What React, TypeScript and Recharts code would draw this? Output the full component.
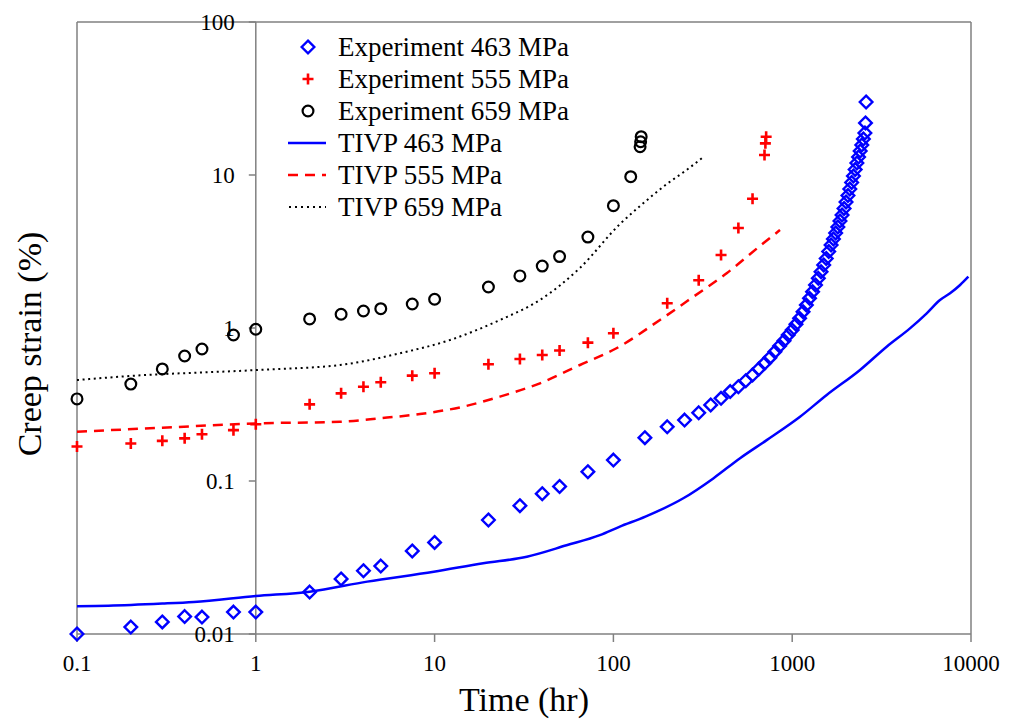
import React from "react";
import {
  ComposedChart,
  Scatter,
  Line,
  XAxis,
  YAxis,
  ReferenceLine,
  ReferenceDot,
  Legend,
} from "recharts";

const FONT = '"Liberation Serif", "Times New Roman", serif';
const AXIS_GRAY = "#808080";
const BLUE = "#0000ff";
const RED = "#ff0000";
const BLACK = "#000000";

// time axis (hr) and strain axis (%) ticks
const xTicks = [0.1, 1, 10, 100, 1000, 10000];
const yTicks = [0.01, 0.1, 1, 10, 100];
const yTickLabels = ["0.01", "0.1", "1", "10", "100"];

// experiment 463 MPa
const exp463Time = [
  0.1, 0.2, 0.3, 0.4, 0.5, 0.75, 1, 2, 3, 4, 5, 7.5, 10, 20, 30, 40, 50, 72,
  100, 150, 200, 250, 300, 350, 400, 450, 500, 550, 600, 650, 700, 750, 800,
  850, 900, 950, 1000, 1050, 1100, 1150, 1200, 1250, 1300, 1350, 1400, 1450,
  1500, 1550, 1600, 1650, 1700, 1750, 1800, 1850, 1900, 1950, 2000, 2050, 2100,
  2150, 2200, 2250, 2300, 2350, 2400, 2450, 2500, 2550, 2570, 2590,
];
const exp463Strain = [
  0.01, 0.0111, 0.012, 0.013, 0.0129, 0.0139, 0.0139, 0.0188, 0.0229, 0.0259,
  0.0278, 0.0349, 0.0397, 0.0556, 0.069, 0.0826, 0.0921, 0.115, 0.137, 0.192,
  0.226, 0.25, 0.279, 0.314, 0.347, 0.384, 0.413, 0.452, 0.493, 0.54, 0.588,
  0.64, 0.7, 0.763, 0.826, 0.9, 0.97, 1.057, 1.157, 1.278, 1.413, 1.564, 1.727,
  1.91, 2.113, 2.333, 2.581, 2.846, 3.162, 3.487, 3.816, 4.177, 4.573, 5.004,
  5.478, 6.04, 6.662, 7.345, 8.1, 8.933, 9.851, 10.86, 11.98, 13.11, 14.35,
  15.71, 17.19, 18.82, 21.88, 30.0,
];

// experiment 555 MPa
const exp555Time = [
  0.1, 0.2, 0.3, 0.4, 0.5, 0.75, 1, 2, 3, 4, 5, 7.5, 10, 20, 30, 40, 50, 72,
  100, 200, 300, 400, 500, 600, 700, 708, 715,
];
const exp555Strain = [
  0.168, 0.176, 0.183, 0.19, 0.202, 0.215, 0.235, 0.317, 0.374, 0.413, 0.442,
  0.488, 0.506, 0.579, 0.627, 0.666, 0.712, 0.802, 0.923, 1.45, 2.05, 3.0, 4.5,
  7.0, 13.5, 16.1, 17.8,
];

// experiment 659 MPa
const exp659Time = [
  0.1, 0.2, 0.3, 0.4, 0.5, 0.75, 1, 2, 3, 4, 5, 7.5, 10, 20, 30, 40, 50, 72,
  100, 125, 141, 142, 143,
];
const exp659Strain = [
  0.344, 0.43, 0.54, 0.656, 0.729, 0.9, 0.981, 1.146, 1.23, 1.292, 1.337, 1.435,
  1.541, 1.854, 2.19, 2.54, 2.93, 3.93, 6.3, 9.75, 15.3, 16.5, 17.8,
];

// TIVP model curves
const tivp463Time = [
  0.1, 0.15, 0.3, 0.45, 1, 2, 4.2, 9.9, 18.7, 32.8, 54.7, 84, 108, 151, 246,
  362, 511, 720, 1106, 1560, 2395, 3376, 4556, 5654, 6707, 7637, 8690, 9670,
];
const tivp463Strain = [
  0.0152, 0.0153, 0.0158, 0.0162, 0.0177, 0.0189, 0.022, 0.0255, 0.029, 0.032,
  0.038, 0.0443, 0.0502, 0.0585, 0.0771, 0.104, 0.141, 0.185, 0.263, 0.365,
  0.532, 0.755, 0.995, 1.248, 1.524, 1.686, 1.91, 2.164,
];

const tivp555Time = [
  0.1, 0.3, 1, 2.96, 4.95, 8.28, 13.9, 23.2, 38.8, 65, 104, 182, 280, 430, 689,
  855,
];
const tivp555Strain = [
  0.21, 0.223, 0.238, 0.244, 0.257, 0.274, 0.303, 0.356, 0.435, 0.573, 0.737,
  1.128, 1.6, 2.28, 3.58, 4.37,
];

const tivp659Time = [
  0.1, 0.2, 1, 2.96, 6.4, 12.2, 23.2, 38.8, 65, 109, 141, 199, 257, 318,
];
const tivp659Strain = [
  0.457, 0.486, 0.531, 0.573, 0.684, 0.835, 1.128, 1.524, 2.47, 4.79, 6.27,
  8.73, 10.8, 13.1,
];

const legendNames = [
  "Experiment 463 MPa",
  "Experiment 555 MPa",
  "Experiment 659 MPa",
  "TIVP 463 MPa",
  "TIVP 555 MPa",
  "TIVP 659 MPa",
];

const zip = (t: number[], s: number[]) =>
  t.map((time, i) => ({ time, strain: s[i] }));

const DiamondMark = ({ cx, cy }: any) => (
  <path
    d={`M${cx},${cy - 6.3}L${cx + 6.3},${cy}L${cx},${cy + 6.3}L${cx - 6.3},${cy}Z`}
    fill="none"
    stroke={BLUE}
    strokeWidth={2.4}
  />
);

const PlusMark = ({ cx, cy }: any) => (
  <path
    d={`M${cx - 5.5},${cy}H${cx + 5.5}M${cx},${cy - 5.5}V${cy + 5.5}`}
    stroke={RED}
    strokeWidth={2.6}
  />
);

const CircleMark = ({ cx, cy }: any) => (
  <circle cx={cx} cy={cy} r={5.4} fill="none" stroke={BLACK} strokeWidth={2.2} />
);

const yTickShape = (label: string) => ({ cx, cy }: any) => (
  <g>
    <line x1={cx - 7} y1={cy} x2={cx} y2={cy} stroke={AXIS_GRAY} strokeWidth={1.5} />
    <text
      x={cx - 21}
      y={cy}
      textAnchor="end"
      dominantBaseline="central"
      fontSize={23}
      fontFamily={FONT}
      fill="#000"
    >
      {label}
    </text>
  </g>
);

const legendSymbol = (i: number) => {
  switch (i) {
    case 0:
      return <DiamondMark cx={20} cy={16} />;
    case 1:
      return <PlusMark cx={20} cy={16} />;
    case 2:
      return <CircleMark cx={20} cy={16} />;
    case 3:
      return <line x1={0} y1={16} x2={38} y2={16} stroke={BLUE} strokeWidth={2.5} />;
    case 4:
      return (
        <line x1={0} y1={16} x2={38} y2={16} stroke={RED} strokeWidth={2.5} strokeDasharray="10 7" />
      );
    default:
      return (
        <line x1={1} y1={16} x2={38} y2={16} stroke={BLACK} strokeWidth={2} strokeDasharray="2 4" />
      );
  }
};

const ChartLegend = () => (
  <div style={{ fontFamily: FONT, fontSize: 27, color: "#000" }}>
    {legendNames.map((name, i) => (
      <div key={name} style={{ display: "flex", alignItems: "center", height: 32 }}>
        <svg width={50} height={32}>
          {legendSymbol(i)}
        </svg>
        <span style={{ whiteSpace: "nowrap" }}>{name}</span>
      </div>
    ))}
  </div>
);

const YTitle = (props: any) => {
  const vb = props.viewBox;
  const x = vb.x + 29;
  const y = vb.y + vb.height / 2 + 16;
  return (
    <text
      x={x}
      y={y}
      transform={`rotate(-90, ${x}, ${y})`}
      textAnchor="middle"
      dominantBaseline="central"
      fontSize={34}
      fontFamily={FONT}
      fill="#000"
    >
      Creep strain (%)
    </text>
  );
};

export default function App() {
  return (
    <div style={{ position: "absolute", left: 0, top: 0, background: "#fff" }}>
      <ComposedChart
        width={1009}
        height={723}
        margin={{ top: 22, right: 38, bottom: 0, left: 0 }}
      >
        <XAxis
          dataKey="time"
          type="number"
          scale="log"
          domain={[0.1, 10000]}
          ticks={xTicks}
          height={89}
          stroke={AXIS_GRAY}
          axisLine={{ stroke: AXIS_GRAY, strokeWidth: 1.5 }}
          tickLine={{ stroke: AXIS_GRAY, strokeWidth: 1.5 }}
          tickSize={8}
          tickMargin={13}
          tick={{ fontSize: 23, fill: "#000", fontFamily: FONT }}
          label={{
            value: "Time (hr)",
            position: "insideBottom",
            offset: 12,
            fontSize: 34,
            fill: "#000",
            fontFamily: FONT,
          }}
        />
        <YAxis
          dataKey="strain"
          type="number"
          scale="log"
          domain={[0.01, 100]}
          ticks={yTicks}
          width={77}
          axisLine={false}
          tickLine={false}
          tick={false}
          label={YTitle}
        />

        {/* plot frame */}
        <ReferenceLine x={0.1} stroke={AXIS_GRAY} strokeWidth={1.5} />
        <ReferenceLine x={10000} stroke={AXIS_GRAY} strokeWidth={1.5} />
        <ReferenceLine y={100} stroke={AXIS_GRAY} strokeWidth={1.5} />
        {/* strain axis crossing at t = 1 hr */}
        <ReferenceLine x={1} stroke={AXIS_GRAY} strokeWidth={1.5} />
        {yTicks.map((v, i) => (
          <ReferenceDot
            key={v}
            x={1}
            y={v}
            r={0}
            ifOverflow="visible"
            shape={yTickShape(yTickLabels[i])}
          />
        ))}

        <Line
          data={zip(tivp463Time, tivp463Strain)}
          dataKey="strain"
          name={legendNames[3]}
          type="monotone"
          stroke={BLUE}
          strokeWidth={2.5}
          dot={false}
          isAnimationActive={false}
        />
        <Line
          data={zip(tivp555Time, tivp555Strain)}
          dataKey="strain"
          name={legendNames[4]}
          type="monotone"
          stroke={RED}
          strokeWidth={2.5}
          strokeDasharray="10 7"
          dot={false}
          isAnimationActive={false}
        />
        <Line
          data={zip(tivp659Time, tivp659Strain)}
          dataKey="strain"
          name={legendNames[5]}
          type="monotone"
          stroke={BLACK}
          strokeWidth={2}
          strokeDasharray="2 3.6"
          dot={false}
          isAnimationActive={false}
        />
        <Scatter
          data={zip(exp463Time, exp463Strain)}
          dataKey="strain"
          name={legendNames[0]}
          shape={DiamondMark}
          isAnimationActive={false}
        />
        <Scatter
          data={zip(exp555Time, exp555Strain)}
          dataKey="strain"
          name={legendNames[1]}
          shape={PlusMark}
          isAnimationActive={false}
        />
        <Scatter
          data={zip(exp659Time, exp659Strain)}
          dataKey="strain"
          name={legendNames[2]}
          shape={CircleMark}
          isAnimationActive={false}
        />

        <Legend
          layout="horizontal"
          verticalAlign="middle"
          align="center"
          content={ChartLegend}
          wrapperStyle={{ left: 288, top: 31, width: 340 }}
        />
      </ComposedChart>
    </div>
  );
}
